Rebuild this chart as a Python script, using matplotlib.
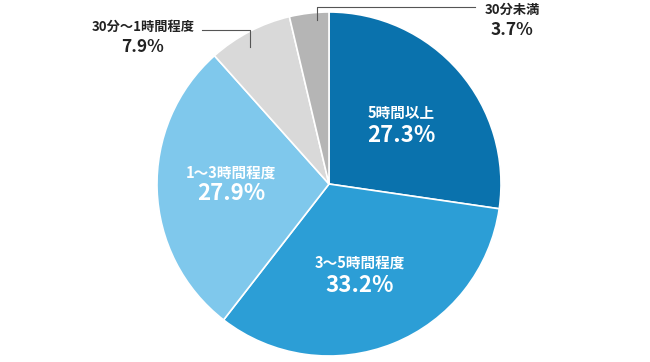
import matplotlib.pyplot as plt

plt.rcParams['font.family'] = ['Noto Sans CJK JP', 'DejaVu Sans']

labels = ['5時間以上', '3〜5時間程度', '1〜3時間程度', '30分〜1時間程度', '30分未満']
values = [27.3, 33.2, 27.9, 7.9, 3.7]
colors = ['#0a72ad', '#2c9ed6', '#7fc8ec', '#d9d9d9', '#b5b5b5']

W, H = 650, 362
fig = plt.figure(figsize=(W / 100, H / 100), dpi=100)
ax = fig.add_axes([0, 0, 1, 1])

cx, cy, r = 329, H - 184, 172
ax.pie(values, colors=colors, startangle=90, counterclock=False,
       center=(cx, cy), radius=r, frame=True,
       wedgeprops=dict(edgecolor='white', linewidth=1.2))
ax.set_xlim(0, W)
ax.set_ylim(0, H)
ax.set_aspect('equal')
ax.axis('off')

# labels inside the pie (pixel positions, y measured from top)
inside = {0: (401, 113, 135), 1: (360, 263, 286), 2: (231, 173, 194)}
for i, (x, y1, y2) in inside.items():
    ax.text(x, H - y1, labels[i], color='white', fontsize=10.5, fontweight='bold',
            ha='center', va='center')
    ax.text(x, H - y2, f'{values[i]:.1f}%', color='white', fontsize=16,
            fontweight='bold', ha='center', va='center')

# outside labels with leader lines
line_kw = dict(color='#555555', linewidth=0.8)
ax.plot([202, 250, 250], [H - 30, H - 30, H - 47], **line_kw)
ax.text(143, H - 27, labels[3], color='#222222', fontsize=9.5, fontweight='bold',
        ha='center', va='center')
ax.text(143, H - 47, f'{values[3]:.1f}%', color='#222222', fontsize=12.5,
        fontweight='bold', ha='center', va='center')

ax.plot([475, 317, 317], [H - 7, H - 7, H - 20], **line_kw)
ax.text(512, H - 10, labels[4], color='#222222', fontsize=9.5, fontweight='bold',
        ha='center', va='center')
ax.text(512, H - 30, f'{values[4]:.1f}%', color='#222222', fontsize=12.5,
        fontweight='bold', ha='center', va='center')

fig.savefig('out.png', dpi=100)
